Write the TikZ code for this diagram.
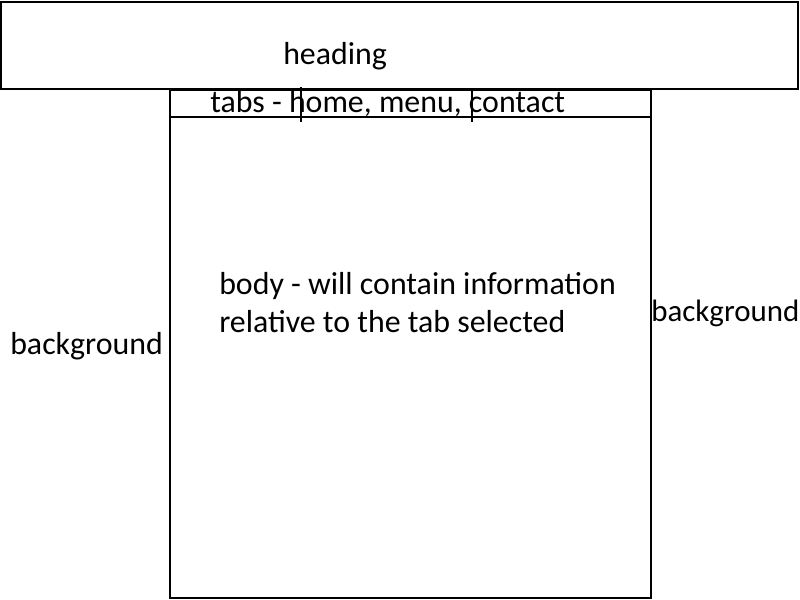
\documentclass[tikz,border=0pt]{standalone}
\usepackage{fontspec}
\setmainfont{Carlito}
\begin{document}
\begin{tikzpicture}[x=0.75pt,y=-0.75pt,
  box/.style={draw=black,line width=1.5pt},
  thin/.style={draw=black,line width=0.9pt},
  lbl/.style={inner sep=0pt,anchor=base west,font=\fontsize{23.9}{29}\selectfont}]
\useasboundingbox (0,0) rectangle (800,600);
\fill[white] (0,0) rectangle (800,600);
\coordinate (h1) at (1,2);
\coordinate (h2) at (798,89);
\draw[box] (h1) rectangle (h2);
\coordinate (b1) at (170,90);
\coordinate (b2) at (651,598);
\draw[box] (b1) |- (b2) |- (b1);
\coordinate (t1) at (170,117);
\coordinate (t2) at (651,117);
\draw[thin] (t1) -- (t2);
\coordinate (v1a) at (301,87);
\coordinate (v1b) at (301,122);
\draw[thin] (v1a) -- (v1b);
\coordinate (v2a) at (472,91);
\coordinate (v2b) at (472,122);
\draw[thin] (v2a) -- (v2b);
\node[lbl] (heading) at (283,64) {heading};
\node[lbl] (tabs) at (210,112) {tabs - home, menu, contact};
\node[lbl] (body1) at (219,294) {body - will contain information};
\node[lbl] (body2) at (219,332) {relative to the tab selected};
\node[lbl] (bgl) at (10,354) {background};
\node[lbl,font=\fontsize{23.2}{28}\selectfont] (bgr) at (651,321) {background};
\end{tikzpicture}
\end{document}
